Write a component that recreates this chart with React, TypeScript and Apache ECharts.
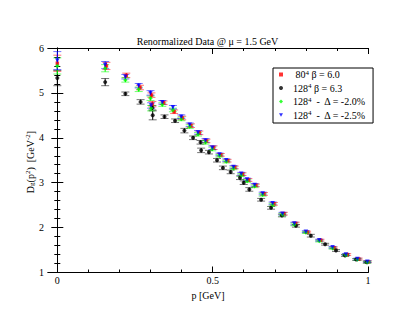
import React, { useEffect, useRef } from "react";
import * as echarts from "echarts";

const FONT = "Liberation Serif";

// 80^4, beta = 6.0 (red squares)
const pRed = [0, 0.158, 0.222, 0.266, 0.303, 0.306, 0.342, 0.376, 0.402, 0.43, 0.457, 0.48, 0.503, 0.526, 0.548, 0.571, 0.596, 0.615, 0.639, 0.665, 0.697, 0.729, 0.767, 0.804, 0.847, 0.89, 0.933, 0.97, 0.999];
const dRed = [5.66, 5.6, 5.39, 5.12, 4.95, 4.75, 4.78, 4.58, 4.44, 4.27, 4.11, 3.93, 3.78, 3.62, 3.49, 3.34, 3.19, 3.06, 2.94, 2.75, 2.53, 2.31, 2.09, 1.9, 1.72, 1.55, 1.4, 1.3, 1.24];
const eRed = [0.18, 0.08, 0.05, 0.05, 0.05, 0.06, 0.04, 0.04, 0.04, 0.04, 0.04, 0.04, 0.04, 0.03, 0.03, 0.03, 0.03, 0.03, 0.03, 0.03, 0.03, 0.03, 0.03, 0.02, 0.02, 0.02, 0.02, 0.02, 0.02];

// 128^4, beta = 6.3 (black circles)
const pBlack = [0, 0.154, 0.219, 0.268, 0.306, 0.307, 0.345, 0.379, 0.409, 0.437, 0.461, 0.463, 0.488, 0.514, 0.533, 0.558, 0.588, 0.6, 0.618, 0.656, 0.688, 0.723, 0.768, 0.816, 0.862, 0.897, 0.926, 0.962, 0.996];
const dBlack = [5.33, 5.24, 4.98, 4.8, 4.67, 4.5, 4.47, 4.38, 4.16, 4.0, 3.9, 3.72, 3.68, 3.5, 3.33, 3.24, 3.11, 3.0, 2.85, 2.62, 2.44, 2.27, 2.04, 1.82, 1.63, 1.49, 1.38, 1.29, 1.23];
const eBlack = [0.17, 0.08, 0.04, 0.05, 0.05, 0.1, 0.04, 0.04, 0.05, 0.04, 0.04, 0.05, 0.04, 0.04, 0.04, 0.04, 0.04, 0.04, 0.04, 0.03, 0.03, 0.03, 0.03, 0.03, 0.02, 0.02, 0.02, 0.02, 0.02];

// 128^4, Delta = -2.0% (green)
const pGreen = [0, 0.154, 0.219, 0.262, 0.3, 0.302, 0.338, 0.372, 0.399, 0.426, 0.453, 0.477, 0.499, 0.522, 0.544, 0.567, 0.592, 0.611, 0.635, 0.661, 0.693, 0.725, 0.763, 0.8, 0.843, 0.886, 0.929, 0.966, 0.998];
const dGreen = [5.6, 5.55, 5.29, 5.08, 4.88, 4.66, 4.74, 4.62, 4.42, 4.25, 4.08, 3.9, 3.75, 3.6, 3.47, 3.32, 3.17, 3.04, 2.92, 2.73, 2.51, 2.29, 2.07, 1.89, 1.7, 1.54, 1.39, 1.29, 1.23];
const eGreen = [0.18, 0.08, 0.05, 0.05, 0.05, 0.06, 0.04, 0.04, 0.04, 0.04, 0.04, 0.04, 0.04, 0.03, 0.03, 0.03, 0.03, 0.03, 0.03, 0.03, 0.03, 0.03, 0.03, 0.02, 0.02, 0.02, 0.02, 0.02, 0.02];

// 128^4, Delta = -2.5% (blue)
const pBlue = [0, 0.154, 0.219, 0.262, 0.3, 0.302, 0.338, 0.372, 0.399, 0.426, 0.453, 0.477, 0.499, 0.522, 0.544, 0.567, 0.592, 0.611, 0.635, 0.661, 0.693, 0.725, 0.763, 0.8, 0.843, 0.886, 0.929, 0.966, 0.998];
const dBlue = [5.72, 5.62, 5.36, 5.16, 5.0, 4.72, 4.79, 4.68, 4.47, 4.29, 4.12, 3.94, 3.78, 3.63, 3.5, 3.35, 3.2, 3.07, 2.95, 2.76, 2.54, 2.31, 2.09, 1.91, 1.72, 1.56, 1.4, 1.3, 1.24];
const eBlue = [0.2, 0.08, 0.05, 0.05, 0.05, 0.06, 0.04, 0.04, 0.04, 0.04, 0.04, 0.04, 0.04, 0.03, 0.03, 0.03, 0.03, 0.03, 0.03, 0.03, 0.03, 0.03, 0.03, 0.02, 0.02, 0.02, 0.02, 0.02, 0.02];

const xMinorTicks = [0, 0.1, 0.2, 0.3, 0.4, 0.5, 0.6, 0.7, 0.8, 0.9, 1];
const xMajorTicks = [0, 0.5, 1];

const DOWN_TRIANGLE = "path://M0,0L10,0L5,9Z";

const seriesDefs = [
  { name: "s0", label: "{t| 80}{sup|4}{t| β = 6.0}", color: "#ff0000", symbol: "rect", icon: "rect", size: 3.5, rotate: 0, p: pRed, d: dRed, e: eRed },
  { name: "s1", label: "{t|128}{sup|4}{t| β = 6.3}", color: "#000000", symbol: "circle", icon: "circle", size: 4, rotate: 0, p: pBlack, d: dBlack, e: eBlack },
  { name: "s2", label: "{t|128}{sup|4}{t|  -  Δ = -2.0%}", color: "#00ff00", symbol: "diamond", icon: "diamond", size: 4.5, rotate: 0, p: pGreen, d: dGreen, e: eGreen },
  { name: "s3", label: "{t|128}{sup|4}{t|  -  Δ = -2.5%}", color: "#0000ff", symbol: DOWN_TRIANGLE, icon: DOWN_TRIANGLE, size: 4.5, rotate: 0, p: pBlue, d: dBlue, e: eBlue },
];

export default function App() {
  const ref = useRef<HTMLDivElement>(null);
  useEffect(() => {
    if (!ref.current) return;
    const chart = echarts.init(ref.current, null, { renderer: "svg" });
    const series: any[] = [];
    seriesDefs.forEach((s) => {
      const data = s.p.map((p, i) => [p, s.d[i], s.e[i]]);
      series.push({
        type: "custom",
        name: s.name + "_err",
        xAxisIndex: 0,
        yAxisIndex: 0,
        data,
        encode: { x: 0, y: 1 },
        silent: true,
        renderItem: (params: any, api: any) => {
          const x = api.value(0);
          const y = api.value(1);
          const e = api.value(2);
          const t = api.coord([x, y + e]);
          const b = api.coord([x, y - e]);
          const hw = 4;
          const st = { stroke: s.color, lineWidth: 1 };
          const cap = { stroke: s.color, lineWidth: 1, opacity: 0.55 };
          return {
            type: "group",
            children: [
              { type: "line", shape: { x1: t[0], y1: t[1], x2: b[0], y2: b[1] }, style: st },
              { type: "line", shape: { x1: t[0] - hw, y1: t[1], x2: t[0] + hw, y2: t[1] }, style: cap },
              { type: "line", shape: { x1: b[0] - hw, y1: b[1], x2: b[0] + hw, y2: b[1] }, style: cap },
            ],
          };
        },
      });
      series.push({
        type: "scatter",
        name: s.name,
        xAxisIndex: 0,
        yAxisIndex: 0,
        data: data.map((v) => [v[0], v[1]]),
        symbol: s.symbol,
        symbolSize: s.size,
        itemStyle: { color: s.color },
        silent: true,
      });
    });

    const labelMap: Record<string, string> = {};
    seriesDefs.forEach((s) => (labelMap[s.name] = s.label));

    const axisLine = { show: true, lineStyle: { color: "#000", width: 1 } };
    const baseX = {
      type: "value",
      min: -0.03,
      max: 1,
      splitLine: { show: false },
      axisLine,
    };

    chart.setOption({
      animation: false,
      backgroundColor: "#ffffff",
      title: {
        text: "Renormalized Data @ μ = 1.5 GeV",
        left: "center",
        top: 31,
        textStyle: { fontFamily: FONT, fontSize: 10, fontWeight: "normal", color: "#000" },
      },
      grid: { left: 48, right: 47, top: 48, bottom: 48.5, containLabel: false },
      legend: {
        data: seriesDefs.map((s) => ({ name: s.name, icon: s.icon })),
        orient: "vertical",
        left: 273,
        top: 68,
        itemWidth: 4,
        itemHeight: 4,
        itemGap: 3,
        padding: [1, 7, 3, 6],
        borderColor: "#000",
        borderWidth: 1,
        backgroundColor: "#fff",
        formatter: (name: string) => labelMap[name],
        textStyle: {
          fontFamily: FONT,
          fontSize: 10,
          color: "#000",
          padding: [0, 0, 0, 5],
          rich: {
            t: { fontFamily: FONT, fontSize: 10, lineHeight: 11, color: "#000" },
            sup: { fontFamily: FONT, fontSize: 7, lineHeight: 7, verticalAlign: "top", color: "#000" },
          },
        },
      },
      xAxis: [
        {
          ...baseX,
          position: "bottom",
          axisTick: { show: true, inside: true, length: 3, customValues: xMinorTicks, lineStyle: { color: "#000" } },
          axisLabel: { show: true, customValues: xMajorTicks, margin: 3, fontFamily: FONT, fontSize: 10, color: "#000" },
          name: "p [GeV]",
          nameLocation: "middle",
          nameGap: 12,
          nameTextStyle: { fontFamily: FONT, fontSize: 10, color: "#000" },
        },
        {
          ...baseX,
          position: "bottom",
          axisTick: { show: true, inside: true, length: 6, customValues: xMajorTicks, lineStyle: { color: "#000" } },
          axisLabel: { show: false },
        },
        {
          ...baseX,
          position: "top",
          axisTick: { show: true, inside: true, length: 3, customValues: xMinorTicks, lineStyle: { color: "#000" } },
          axisLabel: { show: false },
        },
        {
          ...baseX,
          position: "top",
          axisTick: { show: true, inside: true, length: 6, customValues: xMajorTicks, lineStyle: { color: "#000" } },
          axisLabel: { show: false },
        },
      ],
      yAxis: [
        {
          type: "value",
          position: "left",
          min: 1,
          max: 6,
          interval: 1,
          splitLine: { show: false },
          axisLine,
          axisTick: { show: true, inside: true, length: 6, lineStyle: { color: "#000" } },
          minorTick: { show: true, splitNumber: 5, length: 3, lineStyle: { color: "#000" } },
          axisLabel: { margin: 4, fontFamily: FONT, fontSize: 10, color: "#000" },
        },
        {
          type: "value",
          position: "right",
          min: 1,
          max: 6,
          interval: 1,
          splitLine: { show: false },
          axisLine,
          axisTick: { show: true, inside: true, length: 6, lineStyle: { color: "#000" } },
          minorTick: { show: true, splitNumber: 5, length: 3, lineStyle: { color: "#000" } },
          axisLabel: { show: false },
        },
      ],
      graphic: [
        {
          type: "text",
          x: 30,
          y: 162,
          rotation: Math.PI / 2,
          style: {
            text: "{t|D}{sub|g}{t|(p}{sup|2}{t|)  [GeV}{sup|-2}{t|]}",
            align: "center",
            verticalAlign: "middle",
            rich: {
              t: { fontFamily: FONT, fontSize: 10, lineHeight: 11, fill: "#000" },
              sup: { fontFamily: FONT, fontSize: 7, lineHeight: 7, verticalAlign: "top", fill: "#000" },
              sub: { fontFamily: FONT, fontSize: 7, lineHeight: 7, verticalAlign: "bottom", fill: "#000" },
            },
          },
        },
      ],
      series,
    });
    return () => chart.dispose();
  }, []);
  return <div ref={ref} style={{ position: "fixed", left: 0, top: 0, width: 415, height: 321 }} />;
}
